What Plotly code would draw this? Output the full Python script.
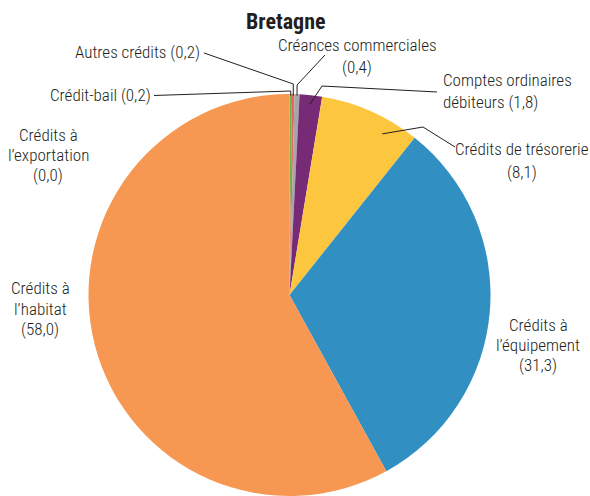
import math
import plotly.graph_objects as go

# ---- data ----
categories = ["Crédit-bail", "Autres crédits", "Créances commerciales",
              "Comptes ordinaires débiteurs", "Crédits de trésorerie",
              "Crédits à l’équipement", "Crédits à l’habitat",
              "Crédits à l’exportation"]
values = [0.2, 0.2, 0.4, 1.8, 8.1, 31.3, 58.0, 0.0]
value_labels = ["(0,2)", "(0,2)", "(0,4)", "(1,8)", "(8,1)", "(31,3)", "(58,0)", "(0,0)"]
colors = ["#6DB33F", "#E8636B", "#A6A6A6", "#772A75", "#FCC73F",
          "#3190C1", "#F79852", "#C0504D"]
title = "Bretagne"

# ---- layout constants (pixels) ----
W, H = 590, 496
CX, CY, R = 289.5, 295.0, 201.0
FONT = "Liberation Sans Narrow, Arial Narrow, Roboto Condensed, DejaVu Sans Condensed, sans-serif"
TXT = "#231F20"

def px(x):
    return x / W

def py(y):
    return 1 - y / H

fig = go.Figure()
fig.add_trace(go.Pie(
    labels=categories, values=values, sort=False, direction="clockwise",
    rotation=0, textinfo="none", marker=dict(colors=colors, line=dict(width=0)),
    showlegend=False, hoverinfo="label+value",
    domain=dict(x=[px(CX - R), px(CX + R)], y=[0, py(CY - R)]),
))

# label text blocks: index -> (lines, x, ys, xanchor)
label_layout = {
    2: (["Créances commerciales", value_labels[2]], 357, [45, 67], "center"),
    1: ([f"Autres crédits {value_labels[1]}"], 202, [52], "right"),
    0: ([f"Crédit-bail {value_labels[0]}"], 153, [95], "right"),
    7: (["Crédits à", "l’exportation", value_labels[7]], 48, [135, 155, 175], "center"),
    6: (["Crédits à", "l’habitat", value_labels[6]], 40, [288, 309, 329], "center"),
    5: (["Crédits à", "l’équipement", value_labels[5]], 538, [325, 345, 365], "center"),
    4: (["Crédits de trésorerie", value_labels[4]], 522, [149, 172], "center"),
    3: (["Comptes ordinaires", f"débiteurs {value_labels[3]}"], 441, [80, 102], "left"),
}

annotations = [dict(text=f"<b>{title}</b>", x=px(286), y=py(21), xref="paper", yref="paper",
                    xanchor="center", yanchor="middle",
                    showarrow=False, font=dict(family=FONT, size=22, color=TXT))]
for i, (lines, x, ys, xa) in label_layout.items():
    for line, y in zip(lines, ys):
        annotations.append(dict(text=line, x=px(x), y=py(y), xref="paper", yref="paper",
                                xanchor=xa, yanchor="middle", showarrow=False,
                                font=dict(family=FONT, size=17, color=TXT, weight=300)))

# leader lines: label-side points (pixels), pie-side end from slice angle
total = sum(values)
cum = [0]
for v in values:
    cum.append(cum[-1] + v)

def slice_point(i, rfrac, dang=0.0, frac=0.5):
    a = (cum[i] + frac * values[i]) / total * 2 * math.pi + math.radians(dang)
    return CX + R * rfrac * math.sin(a), CY - R * rfrac * math.cos(a)

leaders = {
    0: ([(154, 95.5)], 1.0, 0.0, 91),
    1: ([(204, 53)], 1.0, 0.0, 84),
    2: ([(325, 55)], 1.0, 0.0, 85),
    3: ([(437, 92), (322, 86)], 0.955, 0.0, None),
    4: ([(455, 147), (423, 127)], 0.925, 6.0, None),
}
shapes = []
for i, (pts, rf, dang, elbow_y) in leaders.items():
    ex, ey = slice_point(i, rf, dang)
    path_pts = list(pts)
    if elbow_y is not None:
        path_pts.append((ex, elbow_y))
        ey = ey + 1.5
    path_pts.append((ex, ey))
    d = "M " + " L ".join(f"{px(x):.5f},{py(y):.5f}" for x, y in path_pts)
    shapes.append(dict(type="path", path=d, xref="paper", yref="paper",
                       line=dict(color="#231F20", width=1)))

fig.update_layout(
    width=W, height=H, margin=dict(l=0, r=0, t=0, b=0),
    paper_bgcolor="white", plot_bgcolor="white",
    annotations=annotations, shapes=shapes,
)
fig.write_html("out.html")
